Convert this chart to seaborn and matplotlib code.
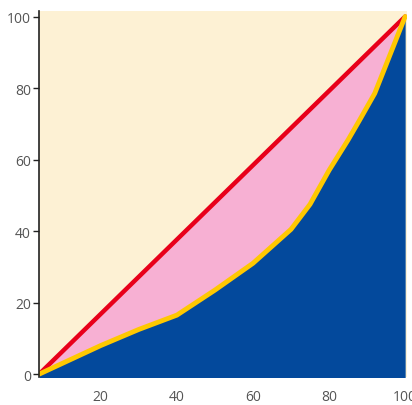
import matplotlib
matplotlib.use("Agg")
import matplotlib.pyplot as plt
import seaborn as sns
import numpy as np
import pandas as pd

# cumulative share of population (%) and of income (%)
population = [3.8, 20, 30, 40, 50, 60, 70, 75, 80, 85, 88, 92, 100]
income = [0, 8, 12.5, 16.5, 23.5, 31, 40.5, 47.5, 57, 65.5, 71, 78.5, 100]
equality_x = [3.8, 100]
equality_y = [0, 100]

x_ticks = [20, 40, 60, 80, 100]
y_ticks = [0, 20, 40, 60, 80, 100]

sns.set_style("white")
plt.rcParams["font.family"] = ["Open Sans", "DejaVu Sans"]

fig = plt.figure(figsize=(4.12, 4.06), dpi=100)
ax = fig.add_axes([0.095, 0.069, 0.893, 0.901])
ax.set_facecolor("#FDF1D4")

df = pd.DataFrame({"pop": population, "inc": income})
eq = pd.DataFrame({"pop": equality_x, "inc": equality_y})

line_on_curve = np.interp(df["pop"], eq["pop"], eq["inc"])
ax.fill_between(df["pop"], df["inc"], line_on_curve, color="#F7B0D3", lw=0)
ax.fill_between(df["pop"], -5, df["inc"], color="#03499C", lw=0)

sns.lineplot(data=eq, x="pop", y="inc", ax=ax, color="#E8001A", lw=3.2,
             solid_capstyle="round")
sns.lineplot(data=df, x="pop", y="inc", ax=ax, color="#FFC800", lw=3.5,
             solid_capstyle="round", solid_joinstyle="round")

ax.set_xlim(3.8, 100.5)
ax.set_ylim(-0.8, 101.5)
ax.set_xticks(x_ticks)
ax.set_yticks(y_ticks)
ax.set_xlabel("")
ax.set_ylabel("")

for side in ["top", "right", "bottom"]:
    ax.spines[side].set_visible(False)
ax.spines["left"].set_color("#222222")
ax.spines["left"].set_linewidth(1.2)

ax.tick_params(axis="y", length=4, width=1, color="#222222", labelsize=10,
               labelcolor="#555555", pad=2, left=True)
ax.tick_params(axis="x", length=0, labelsize=10, labelcolor="#555555", pad=9)

plt.savefig("out.png", dpi=100)
plt.close()
